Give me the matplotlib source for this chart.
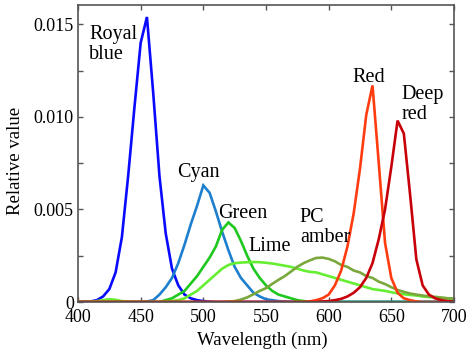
import numpy as np
import matplotlib
matplotlib.use("Agg")
import matplotlib.pyplot as plt
from matplotlib.ticker import MultipleLocator, FuncFormatter

plt.rcParams['font.family'] = ['Liberation Serif', 'DejaVu Serif']

# Wavelength grid, 5 nm steps (400..700)
wavelength = np.arange(400, 701, 5)

royal_blue = ([0, 0, 0.00003, 0.0001, 0.0003, 0.0007, 0.0016, 0.0035, 0.0068, 0.0105,
               0.0140, 0.0154, 0.0113, 0.0068, 0.0037, 0.0018, 0.0009, 0.0004, 0.0002,
               0.0001, 0.00005, 0.00002] + [0] * 39)
cyan = ([0] * 11 + [0.00003, 0.0001, 0.0004, 0.0008, 0.0013, 0.0021, 0.0031, 0.0042,
                    0.0052, 0.0063, 0.0059, 0.0049, 0.0038, 0.0028, 0.0019, 0.0013,
                    0.0009, 0.0005, 0.0003, 0.00015, 0.0001, 0.00005, 0.00002] + [0] * 27)
green = ([0] * 14 + [0.0001, 0.0002, 0.0004, 0.0006, 0.0010, 0.0014, 0.0019, 0.0024,
                     0.0030, 0.0039, 0.0043, 0.0040, 0.0033, 0.0025, 0.0018, 0.0013,
                     0.0009, 0.0006, 0.0004, 0.0003, 0.0002, 0.0001, 0.00005] + [0] * 24)
lime = [0, 0, 0.00002, 0.00005, 0.0001, 0.00015, 0.00012, 0.00005, 0.00002, 0, 0, 0, 0, 0,
        0.00003, 0.00006, 0.0001, 0.0002, 0.0004, 0.0006, 0.0009, 0.0012, 0.0015, 0.0018,
        0.0020, 0.0021, 0.00213, 0.00215, 0.00216, 0.00215, 0.00212, 0.00208, 0.00202,
        0.00196, 0.0019, 0.0018, 0.0017, 0.00163, 0.0016, 0.0015, 0.0014, 0.0013, 0.0012,
        0.0011, 0.0010, 0.0009, 0.0008, 0.0007, 0.00065, 0.0006, 0.00053, 0.00047, 0.00042,
        0.00038, 0.00035, 0.0003, 0.00027, 0.00024, 0.00022, 0.0002, 0.00018]
pc_amber = ([0] * 24 + [0.00002, 0.00005, 0.00013, 0.00025, 0.00042, 0.0006, 0.00075,
                        0.00098, 0.0012, 0.0014, 0.00165, 0.0019, 0.0021, 0.00225, 0.00238,
                        0.0024, 0.00233, 0.0022, 0.0020, 0.0019, 0.0017, 0.0016, 0.0014,
                        0.0013, 0.0011, 0.00097, 0.0008, 0.00065, 0.00055, 0.00046, 0.0004,
                        0.00035, 0.0003, 0.00028, 0.00024, 0.0002, 0.00018])
red = ([0] * 37 + [0.00003, 0.0001, 0.0002, 0.0004, 0.0009, 0.0017, 0.0030, 0.0048, 0.0072,
                   0.0101, 0.0117, 0.0075, 0.0032, 0.0013, 0.0005, 0.0002, 0.0001,
                   0.00003] + [0] * 6)
deep_red = ([0] * 39 + [0.00003, 0.00005, 0.0001, 0.00017, 0.0003, 0.0005, 0.0008, 0.0013,
                        0.0021, 0.0034, 0.0050, 0.0073, 0.0098, 0.0091, 0.0058, 0.0023,
                        0.0009, 0.0004, 0.0002, 0.0001, 0.00005, 0.00002])

series = [
    (royal_blue, "#0a0aff"),
    (cyan, "#1e7fcf"),
    (green, "#1ec81e"),
    (lime, "#66ee33"),
    (pc_amber, "#7aa83c"),
    (red, "#ff3c10"),
    (deep_red, "#c8000a"),
]

# label text, x (nm), y (value) for the top-left corner of each text
labels = [
    ("Royal\nblue", 409, 0.01497),
    ("Cyan", 479, 0.0075),
    ("Green", 512, 0.0053),
    ("Lime", 536, 0.0035),
    ("PC\namber", 577, 0.0051),
    ("Red", 619, 0.01265),
    ("Deep\nred", 658, 0.01173),
]

fig = plt.figure(figsize=(4.68, 3.52), dpi=100)
ax = fig.add_axes([0.1667, 0.142, 0.8033, 0.844])

for vals, col in series:
    ax.plot(wavelength, vals, color=col, lw=1.9, solid_joinstyle='miter')

for txt, x, y in labels:
    ax.text(x, y, txt, fontsize=14.5, ha='left', va='top', linespacing=1.1)

ax.set_xlim(400, 700)
ax.set_ylim(0, 0.01605)
ax.xaxis.set_major_locator(MultipleLocator(50))
ax.yaxis.set_major_locator(MultipleLocator(0.005))
ax.yaxis.set_minor_locator(MultipleLocator(0.0025))
ax.yaxis.set_major_formatter(FuncFormatter(lambda v, p: "0" if v == 0 else f"{v:.3f}"))

ax.tick_params(which='both', direction='in', top=True, right=True, length=3.5,
               width=1.0, color='#555555', labelsize=13)
ax.tick_params(axis='x', pad=5)
ax.tick_params(axis='y', pad=3)
for sp in ax.spines.values():
    sp.set_color('#555555')
    sp.set_linewidth(1.2)

ax.set_xlabel("Wavelength (nm)", fontsize=13.5, labelpad=4)
ax.set_ylabel("Relative value", fontsize=13.5)
ax.yaxis.set_label_coords(-0.145, 0.475)
ax.xaxis.set_label_coords(0.49, -0.1)
ax.xaxis.label.set_va('top')

fig.savefig("out.png", dpi=100)
